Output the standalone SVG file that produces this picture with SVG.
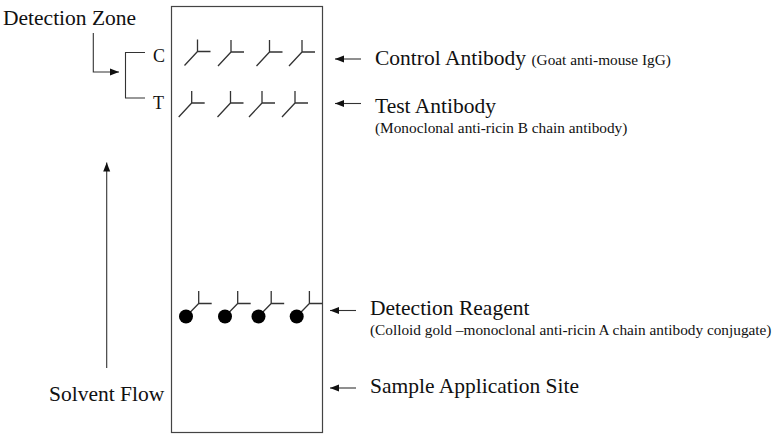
<svg xmlns="http://www.w3.org/2000/svg" width="774" height="440" viewBox="0 0 774 440">
<style>
  text { font-family: "Liberation Serif", "Times New Roman", serif; fill: #111; }
  .big { font-size: 21.5px; }
  .small { font-size: 15.3px; }
  .ct { font-size: 18px; }
  .line { stroke: #444; stroke-width: 1.2; fill: none; }
  .conn { stroke: #333; stroke-width: 1.1; fill: none; }
  .ab { stroke: #333; stroke-width: 1.3; fill: none; }
  .gold { fill: #000; }
</style>
<defs>
  <marker id="arr" markerUnits="userSpaceOnUse" markerWidth="10" markerHeight="8" refX="9" refY="4" orient="auto">
    <path d="M0,0.5 L9,4 L0,7.5 Z" fill="#111"/>
  </marker>
  <g id="y">
    <path d="M0,0 V-12 M0,0 H13 M0,0 L-13,14"/>
  </g>
  <g id="yr">
    <path d="M0,0 V-12.5 M0,0 H13 M0,0 L-12.7,13"/>
  </g>
</defs>

<g id="strip">
  <rect class="line" x="171.5" y="6.5" width="151" height="426"/>
</g>

<g id="detection-zone">
  <text class="big" x="3" y="25">Detection Zone</text>
</g>

<g id="bracket">
  <path class="conn" d="M145,52.5 H125.5 V98 H145" stroke="#555"/>
  <text class="ct" x="153" y="62">C</text>
  <text class="ct" x="153" y="109">T</text>
</g>

<g id="control-line" class="ab">
  <use href="#y" x="197.5" y="51.5"/>
  <use href="#y" x="231" y="52"/>
  <use href="#y" x="269.5" y="52"/>
  <use href="#y" x="302" y="52"/>
</g>

<g id="test-line" class="ab">
  <use href="#y" x="191.7" y="103"/>
  <use href="#y" x="230.5" y="103"/>
  <use href="#y" x="262" y="103"/>
  <use href="#y" x="295" y="103"/>
</g>

<g id="detection-reagent-line">
  <g class="ab">
    <use href="#yr" x="198.7" y="303.5"/>
    <use href="#yr" x="237.7" y="303.5"/>
    <use href="#yr" x="271.2" y="303.5"/>
    <use href="#yr" x="309.4" y="303.5"/>
  </g>
  <circle class="gold" cx="186" cy="316.5" r="7"/>
  <circle class="gold" cx="225" cy="316.5" r="7"/>
  <circle class="gold" cx="258.5" cy="316.5" r="7"/>
  <circle class="gold" cx="296.7" cy="316.5" r="7"/>
</g>

<g id="control-antibody">
  <text class="big" x="375" y="65">Control Antibody <tspan class="small">(Goat anti-mouse IgG)</tspan></text>
</g>

<g id="test-antibody">
  <text class="big" x="375" y="113">Test Antibody</text>
  <text class="small" x="375" y="132.7">(Monoclonal anti-ricin B chain antibody)</text>
</g>

<g id="detection-reagent">
  <text class="big" x="370" y="315">Detection Reagent</text>
  <text class="small" x="370" y="335">(Colloid gold –monoclonal anti-ricin A chain antibody conjugate)</text>
</g>

<g id="sample-application-site">
  <text class="big" x="370" y="392.5">Sample Application Site</text>
</g>

<g id="solvent-flow">
  <text class="big" x="49" y="400.5">Solvent Flow</text>
</g>

<g id="connectors" class="conn">
  <path d="M93.3,33 V72 H119" marker-end="url(#arr)"/>
  <path d="M106.7,368 V162.5" marker-end="url(#arr)"/>
  <path d="M361,59 H335" marker-end="url(#arr)"/>
  <path d="M361,103.5 H335" marker-end="url(#arr)"/>
  <path d="M356,310.5 H330" marker-end="url(#arr)"/>
  <path d="M356,388 H330" marker-end="url(#arr)"/>
</g>
</svg>
